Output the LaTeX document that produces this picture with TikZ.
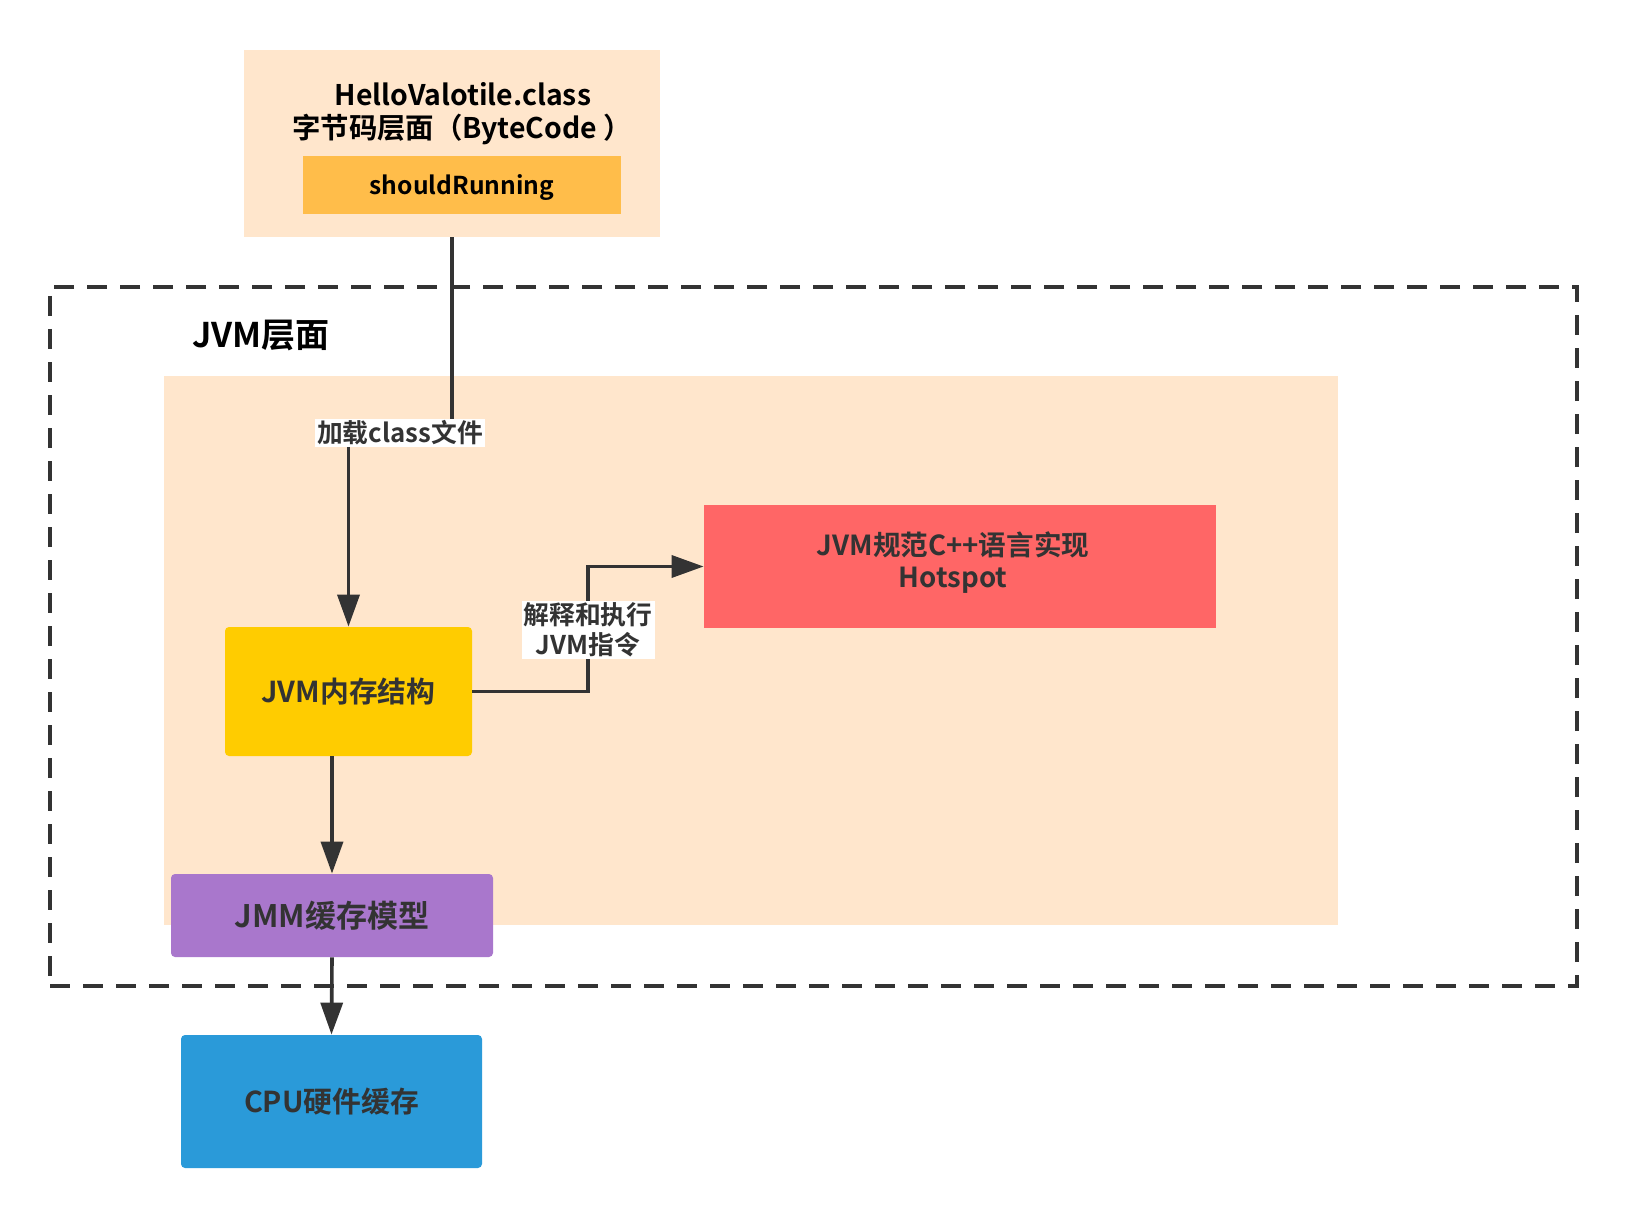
\documentclass[tikz,border=0pt]{standalone}
\usepackage{fontspec}
\setmainfont{Noto Sans CJK SC}[BoldFont={Noto Sans CJK SC Bold}]
\usetikzlibrary{arrows.meta}
\definecolor{peach}{HTML}{FFE6CC}
\definecolor{gold}{HTML}{FFBD4A}
\definecolor{ylw}{HTML}{FFCC00}
\definecolor{purp}{HTML}{A977CC}
\definecolor{blu}{HTML}{2A9AD9}
\definecolor{redb}{HTML}{FF6666}
\definecolor{ink}{HTML}{333333}
\tikzset{
  box/.style={draw=none, inner sep=0pt, align=center, text=ink, font=\bfseries\fontsize{14.4}{17}\selectfont},
  rbox/.style={box, rounded corners=2pt},
  plain/.style={inner sep=0pt, text=black},
  arr/.style={draw=ink, line width=1.8pt, -{Triangle[length=16pt,width=11pt]}},
  lab/.style={fill=white, inner xsep=1pt, inner ysep=1pt, align=center, text=ink, font=\bfseries\fontsize{12.9}{15}\selectfont},
}
\begin{document}
\begin{tikzpicture}[x=0.5pt,y=-0.5pt]
\useasboundingbox (0,0) rectangle (1626,1219);
% top bytecode box
\node[box, fill=peach, minimum width=208pt, minimum height=93.5pt] (top) at (452,143.5) {};
\node[plain, font=\bfseries\fontsize{14.2}{16}\selectfont] (t1) at (463,94) {HelloValotile.class};
\node[plain, font=\bfseries\fontsize{14.2}{16}\selectfont] (t2) at (462,129) {字节码层面（ByteCode ）};
\node[box, fill=gold, minimum width=159pt, minimum height=29pt] (sr) at (462,185) {};
\node[plain, font=\bfseries\fontsize{12.3}{14}\selectfont] (srt) at (462,188) {shouldRunning};
% JVM dashed region
\node[draw=ink, line width=1.8pt, dash pattern=on 10pt off 6.5pt, minimum width=763.5pt, minimum height=349.5pt, inner sep=0pt] (jvm) at (813.5,636.5) {};
\node[plain, font=\bfseries\fontsize{17}{20}\selectfont] (jvmt) at (261,335) {JVM层面};
\node[box, fill=peach, minimum width=587pt, minimum height=274.5pt] (inner) at (751,650.5) {};
% boxes
\node[rbox, fill=ylw, minimum width=123.5pt, minimum height=64.5pt] (mem) at (348.5,691.5) {JVM内存结构};
\node[rbox, fill=purp, minimum width=161pt, minimum height=41.5pt, font=\bfseries\fontsize{15.5}{18}\selectfont] (jmm) at (332,915.5) {JMM缓存模型};
\node[rbox, fill=blu, minimum width=150.5pt, minimum height=66.5pt] (cpu) at (331.5,1101.5) {CPU硬件缓存};
\node[box, fill=redb, minimum width=256pt, minimum height=61.5pt] (red) at (960,566.5) {};
\node[box, font=\bfseries\fontsize{13.8}{16}\selectfont] (redt) at (953,563) {JVM规范C++语言实现\\Hotspot};
% connectors
\coordinate (c1) at (400,433);
\draw[arr] (top.south) |- (c1) -| (mem.north);
\node[lab] (l1) at (c1) {加载class文件};
\coordinate (c2) at (588,630);
\draw[arr] (mem.east) -| (c2) |- (red.west);
\node[lab] (l2) at (c2) {解释和执行\\JVM指令};
\draw[arr] (mem.south -| jmm.north) -- (jmm.north);
\draw[arr] (jmm.south) -- (cpu.north);
\end{tikzpicture}
\end{document}
